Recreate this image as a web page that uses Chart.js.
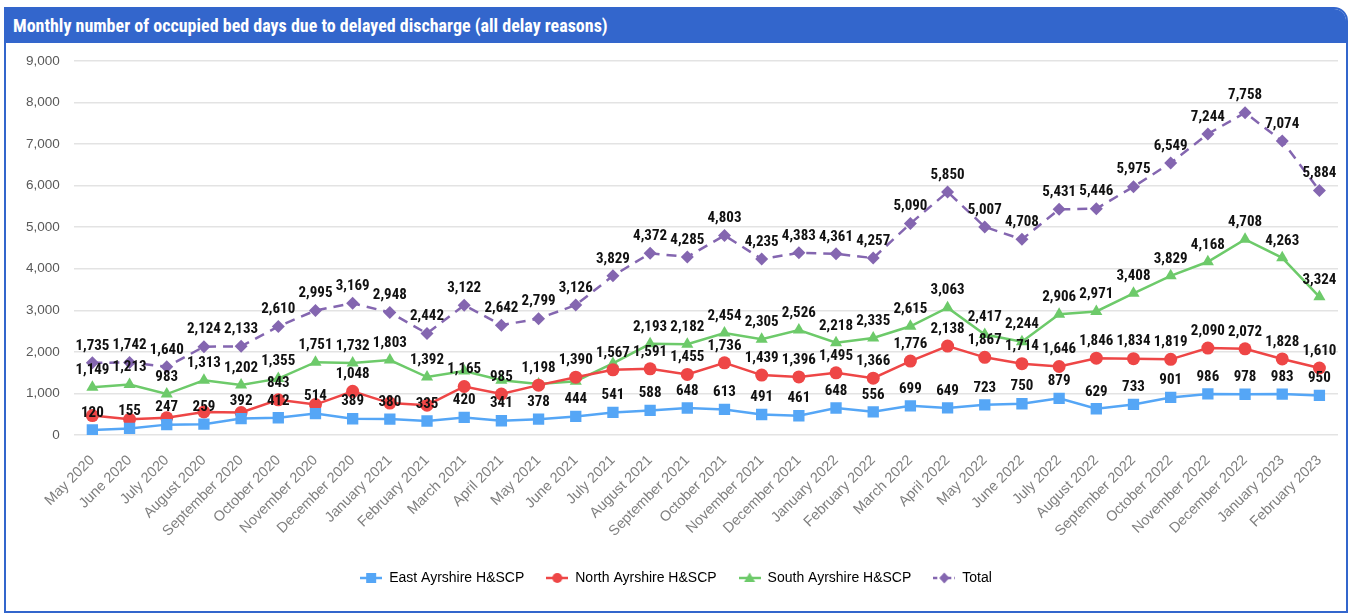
<!DOCTYPE html>
<html>
<head>
<meta charset="utf-8">
<script src="https://cdn.jsdelivr.net/npm/chart.js@4.4.1/dist/chart.umd.min.js"></script>
<style>
  html, body { margin: 0; padding: 0; background: #fff; }
  .frame {
    position: absolute; left: 4px; top: 7px; width: 1340px; height: 602px;
    border: 2px solid #3366cc; border-top-right-radius: 14px; overflow: hidden;
  }
  .head {
    position: relative; z-index: 1;
    height: 34px; background: #3366cc; color: #fff;
    font: bold 18px "Liberation Sans Narrow", "Arial Narrow", "Roboto Condensed", sans-serif;
    line-height: 34px; padding-left: 7px;
  }
  .box { position: relative; width: 1340px; height: 568px; margin-top: -4px; }
</style>
</head>
<body>
<div class="frame">
  <div class="head">Monthly number of occupied bed days due to delayed discharge (all delay reasons)</div>
  <div class="box"><canvas id="c"></canvas></div>
</div>
<script>
const months = [
  'May 2020','June 2020','July 2020','August 2020','September 2020','October 2020',
  'November 2020','December 2020','January 2021','February 2021','March 2021','April 2021',
  'May 2021','June 2021','July 2021','August 2021','September 2021','October 2021',
  'November 2021','December 2021','January 2022','February 2022','March 2022','April 2022',
  'May 2022','June 2022','July 2022','August 2022','September 2022','October 2022',
  'November 2022','December 2022','January 2023','February 2023'
];
const eastAyrshire = [120,155,247,259,392,412,514,389,380,335,420,341,378,444,541,588,648,613,491,461,648,556,699,649,723,750,879,629,733,901,986,978,983,950];
const northAyrshire = [466,374,410,552,539,843,730,1048,765,715,1165,985,1198,1390,1567,1591,1455,1736,1439,1396,1495,1366,1776,2138,1867,1714,1646,1846,1834,1819,2090,2072,1828,1610];
const southAyrshire = [1149,1213,983,1313,1202,1355,1751,1732,1803,1392,1537,1316,1223,1292,1721,2193,2182,2454,2305,2526,2218,2335,2615,3063,2417,2244,2906,2971,3408,3829,4168,4708,4263,3324];
const totalDays = [1735,1742,1640,2124,2133,2610,2995,3169,2948,2442,3122,2642,2799,3126,3829,4372,4285,4803,4235,4383,4361,4257,5090,5850,5007,4708,5431,5446,5975,6549,7244,7758,7074,5884];
const yTicks = [0,1000,2000,3000,4000,5000,6000,7000,8000,9000];
// labels that the original leaves off
const hiddenLabels = { 1: [0,1,2,3,4,6,8,9], 2: [10,11,12,13,14] };

const narrow = '"Liberation Sans Narrow", "Arial Narrow", "Roboto Condensed", sans-serif';
const regular = '"Liberation Sans", Arial, sans-serif';
const fmt = v => v.toLocaleString('en-US');

function legendIcon(color, style, dashed) {
  const cv = document.createElement('canvas');
  cv.width = 22; cv.height = 14;
  const g = cv.getContext('2d');
  g.strokeStyle = color; g.fillStyle = color; g.lineWidth = 2.5;
  if (dashed) g.setLineDash([4, 3]);
  g.beginPath(); g.moveTo(0, 7); g.lineTo(22, 7); g.stroke();
  g.setLineDash([]);
  g.beginPath();
  if (style === 'rect') g.rect(6, 2, 10, 10);
  else if (style === 'circle') g.arc(11, 7, 5, 0, Math.PI * 2);
  else if (style === 'triangle') { g.moveTo(11, 1.5); g.lineTo(16.5, 11); g.lineTo(5.5, 11); g.closePath(); }
  else { g.moveTo(11, 1.5); g.lineTo(16, 7); g.lineTo(11, 12.5); g.lineTo(6, 7); g.closePath(); }
  g.fill();
  return cv;
}

const pointLabels = {
  id: 'pointLabels',
  afterDatasetsDraw(chart) {
    const ctx = chart.ctx;
    ctx.save();
    ctx.font = 'bold 15px ' + narrow;
    ctx.fillStyle = '#111';
    ctx.textAlign = 'center';
    ctx.textBaseline = 'middle';
    chart.data.datasets.forEach((ds, di) => {
      const skip = hiddenLabels[di] || [];
      chart.getDatasetMeta(di).data.forEach((pt, i) => {
        if (skip.includes(i)) return;
        ctx.fillText(fmt(ds.data[i]), pt.x, pt.y - 17);
      });
    });
    ctx.restore();
  }
};

const series = [
  { label: 'East Ayrshire H&SCP', data: eastAyrshire, color: '#55a6f6', style: 'rect', r: 8 },
  { label: 'North Ayrshire H&SCP', data: northAyrshire, color: '#ee4646', style: 'circle', r: 6.5 },
  { label: 'South Ayrshire H&SCP', data: southAyrshire, color: '#6dca6a', style: 'triangle', r: 7 },
  { label: 'Total', data: totalDays, color: '#8466b0', style: 'rectRot', r: 6.5, dash: [10, 7] }
];

new Chart(document.getElementById('c'), {
  type: 'line',
  data: {
    labels: months,
    datasets: series.map(s => ({
      label: s.label,
      data: s.data,
      borderColor: s.color,
      backgroundColor: s.color,
      borderWidth: 2.5,
      borderDash: s.dash || [],
      pointStyle: s.style,
      pointRadius: s.r,
      pointBorderWidth: 0,
      tension: 0,
      icon: legendIcon(s.color, s.style, !!s.dash)
    }))
  },
  options: {
    responsive: true,
    maintainAspectRatio: false,
    animation: false,
    layout: { padding: { top: 4, right: 6, left: 6, bottom: 12 } },
    scales: {
      y: {
        min: 0, max: 9000,
        afterBuildTicks: axis => { axis.ticks = yTicks.map(v => ({ value: v })); },
        ticks: { callback: v => fmt(v), color: '#595959', font: { size: 13.5, family: regular }, padding: 14 },
        grid: { color: '#e3e3e3', lineWidth: 1.5, drawTicks: false },
        border: { display: false }
      },
      x: {
        offset: true,
        ticks: { color: '#7f7f7f', minRotation: 45, maxRotation: 45, autoSkip: false, font: { size: 14.5, family: regular }, padding: 9 },
        grid: { display: false },
        border: { display: false }
      }
    },
    plugins: {
      legend: {
        position: 'bottom',
        labels: {
          usePointStyle: true,
          pointStyleWidth: 22,
          padding: 22,
          color: '#404040',
          font: { size: 14, family: regular },
          generateLabels: chart => chart.data.datasets.map((ds, i) => ({
            text: ds.label, pointStyle: ds.icon, fillStyle: ds.borderColor,
            strokeStyle: ds.borderColor, lineWidth: 0, datasetIndex: i, hidden: false
          }))
        }
      },
      tooltip: { enabled: false }
    }
  },
  plugins: [pointLabels]
});
</script>
</body>
</html>
